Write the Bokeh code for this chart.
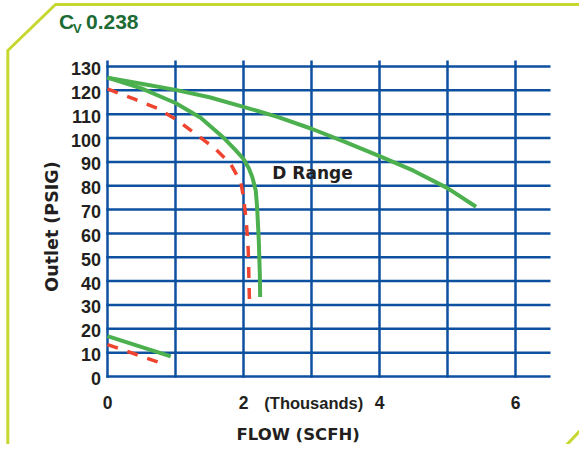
import math
from bokeh.plotting import figure
from bokeh.models import Label, Range1d
from bokeh.core.properties import value
from bokeh.embed import file_html
from bokeh.resources import INLINE

# ---------------- data (flow in thousands SCFH, outlet pressure in PSIG) ----------------
outer_x = [0.0, 0.5, 1.0, 1.5, 1.96, 2.5, 3.0, 3.5, 4.0, 4.5, 5.0, 5.42]
outer_y = [125.3, 122.8, 120.2, 117.1, 113.4, 108.9, 103.9, 98.3, 92.4, 86.3, 79.0, 71.2]

inner_x = [0.0, 0.5, 1.0, 1.37, 1.72, 1.88, 2.0, 2.08, 2.13, 2.18, 2.2, 2.225, 2.24, 2.245]
inner_y = [125.3, 120.8, 114.7, 108.5, 99.8, 95.0, 91.2, 87.2, 83.6, 78.0, 71.0, 57.0, 43.0, 33.3]

red_x = [0.0, 0.4, 0.73, 1.0, 1.47, 1.56, 1.81, 1.96, 2.0, 2.04, 2.07, 2.09]
red_y = [120.6, 116.3, 112.5, 108.0, 98.0, 96.2, 89.2, 81.5, 75.2, 65.4, 52.8, 28.4]

low_green_x = [0.0, 0.93]
low_green_y = [16.9, 8.4]
low_red_x = [0.0, 0.75]
low_red_y = [13.4, 6.0]

x_grid_vals = [0, 1, 2, 3, 4, 5, 6]
x_tick_vals = [0, 2, 4, 6]
x_tick_labels = ["0", "2", "4", "6"]
y_tick_vals = list(range(0, 131, 10))
y_tick_labels = [str(v) for v in y_tick_vals]

title_main = "C"
title_sub = "V"
title_value = "0.238"
x_label = "FLOW (SCFH)"
x_unit = "(Thousands)"
y_label = "Outlet (PSIG)"
range_label = "D Range"

# ---------------- styling / layout ----------------
GREEN = "#4cb04f"
RED = "#ee4430"
GRID = "#0d50a0"
TEXT = "#231f20"
TITLE_GREEN = "#1d6b35"
BORDER = "#c6d72f"

FW, FH = 579, 444
PX0, PXU = 107.0, 68.0          # picture x of zero flow, pixels per thousand SCFH
PY0, PYU = 376.0, 310.0 / 130   # picture y of zero psig, pixels per psig


def fx(px):
    return (px - PX0) / PXU


def fy(py):
    return (PY0 - py) / PYU


p = figure(width=FW, height=FH, x_range=Range1d(fx(0), fx(FW)), y_range=Range1d(fy(FH), fy(0)),
           output_backend="svg", toolbar_location=None, title=None,
           x_axis_location=None, y_axis_location=None,
           min_border=0, min_border_left=0, min_border_right=0, min_border_top=0, min_border_bottom=0)
p.outline_line_color = None
p.background_fill_color = "white"
p.border_fill_color = "white"
p.grid.grid_line_color = None
p.grid.visible = False

# grid
p.segment(x0=x_grid_vals, x1=x_grid_vals, y0=[fy(377.3)] * len(x_grid_vals), y1=[fy(60)] * len(x_grid_vals),
          line_color=GRID, line_width=2.5)
p.segment(x0=[fx(105.8)] * len(y_tick_vals), x1=[fx(550)] * len(y_tick_vals), y0=y_tick_vals, y1=y_tick_vals,
          line_color=GRID, line_width=2.5)

# curves
p.line(outer_x, outer_y, line_color=GREEN, line_width=4)
p.line(inner_x, inner_y, line_color=GREEN, line_width=4)
p.line(red_x, red_y, line_color=RED, line_width=3.5, line_dash="11 10")
p.line(low_green_x, low_green_y, line_color=GREEN, line_width=4)
p.line(low_red_x, low_red_y, line_color=RED, line_width=3.5, line_dash="11 10")

# tick labels
p.text(x=[fx(100.5)] * len(y_tick_vals), y=y_tick_vals, text=y_tick_labels, y_offset=2,
       text_align="right", text_baseline="middle", text_font=value("Liberation Sans"),
       text_font_style="bold", text_font_size="18px", text_color=TEXT)
p.text(x=x_tick_vals, y=[fy(402)] * len(x_tick_vals), text=x_tick_labels,
       text_align="center", text_baseline="middle", text_font=value("Liberation Sans"),
       text_font_style="bold", text_font_size="17.5px", text_color=TEXT)

# texts
bold = dict(text_font_style="bold", text_color=TEXT, text_baseline="middle", text_align="center")
p.add_layout(Label(x=fx(312), y=fy(172.5), text=range_label,
                   text_font="DejaVu Sans", text_font_size="17px", **bold))
p.add_layout(Label(x=fx(313.3), y=fy(402), text=x_unit,
                   text_font="Liberation Sans", text_font_size="16.5px", **bold))
p.add_layout(Label(x=fx(297.6), y=fy(433.5), text=x_label,
                   text_font="DejaVu Sans", text_font_size="16.5px", **bold))
p.add_layout(Label(x=fx(51.5), y=fy(226), text=y_label, angle=math.pi / 2,
                   text_font="DejaVu Sans", text_font_size="17.5px", **bold))

# title
tstyle = dict(text_font="Liberation Sans", text_font_style="bold", text_color=TITLE_GREEN,
              text_baseline="middle", text_align="left")
p.add_layout(Label(x=fx(58.5), y=fy(21), text=title_main, text_font_size="21px", **tstyle))
p.add_layout(Label(x=fx(72.5), y=fy(28.3), text=title_sub, text_font_size="13px", **tstyle))
p.add_layout(Label(x=fx(85.5), y=fy(21), text=title_value, text_font_size="21px", **tstyle))

# decorative border with cut corners
p.line([fx(7.3), fx(7.3), fx(55), fx(600)], [fy(470), fy(50), fy(4), fy(4)],
       line_color=BORDER, line_width=3)
p.line([fx(600), fx(540)], [fy(408.3), fy(472.3)], line_color=BORDER, line_width=3)

open("out.html", "w").write(file_html(p, INLINE))
